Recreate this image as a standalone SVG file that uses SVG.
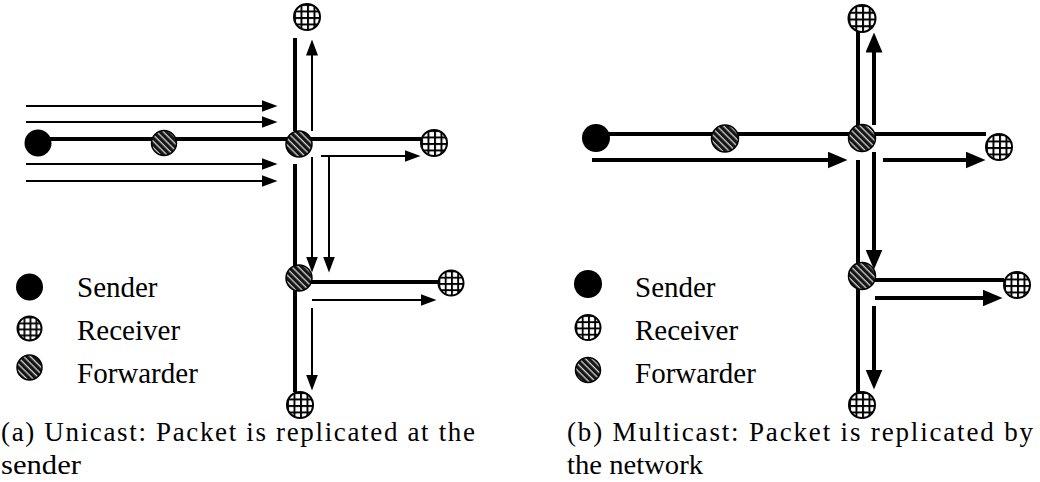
<svg xmlns="http://www.w3.org/2000/svg" width="1040" height="482" viewBox="0 0 1040 482">
<defs>
  <pattern id="grid" patternUnits="objectBoundingBox" width="0.25" height="0.25" patternContentUnits="objectBoundingBox">
    <rect x="0" y="0" width="0.25" height="0.25" fill="#fff"/>
    <rect x="0" y="0" width="0.25" height="0.075" fill="#000"/>
    <rect x="0" y="0" width="0.075" height="0.25" fill="#000"/>
  </pattern>
  <pattern id="stripes" patternUnits="userSpaceOnUse" width="4.6" height="4.6" patternTransform="rotate(45)">
    <rect x="0" y="0" width="4.6" height="4.6" fill="#151515"/>
    <rect x="0" y="0" width="4.6" height="1.3" fill="#d0d0d0"/>
  </pattern>
  <marker id="ah" markerUnits="userSpaceOnUse" markerWidth="16" markerHeight="12" refX="0.5" refY="6" orient="auto">
    <path d="M0,0 L16,6 L0,12 Z" fill="#000"/>
  </marker>
  <marker id="ahb" markerUnits="userSpaceOnUse" markerWidth="20" markerHeight="17" refX="0.5" refY="8.5" orient="auto">
    <path d="M0,0 L20,8.5 L0,17 Z" fill="#000"/>
  </marker>
</defs>
<style>
  .thick { stroke: #000; stroke-width: 4; fill: none; }
  .thin { stroke: #000; stroke-width: 2; fill: none; marker-end: url(#ah); }
  .bold { stroke: #000; stroke-width: 4; fill: none; marker-end: url(#ahb); }
  .sender { fill: #000; }
  .receiver { fill: url(#grid); stroke: #000; stroke-width: 2; }
  .forwarder { fill: url(#stripes); stroke: #000; stroke-width: 1.5; }
  .legend { font-size: 29px; fill: #000; }
  .caption { font-size: 27px; fill: #000; }
</style>

<!-- Left panel connectors -->
<g id="connectors-left">
  <path class="thick" d="M38,139 H421"/>
  <path class="thick" d="M295,38 V131"/>
  <path class="thick" d="M295,164 V392"/>
  <path class="thick" d="M299,282 H438"/>
  <path class="thin" d="M26,106 H262"/>
  <path class="thin" d="M26,122 H262"/>
  <path class="thin" d="M26,164 H262"/>
  <path class="thin" d="M26,181 H262"/>
  <path class="thin" d="M312,131 V55"/>
  <path class="thin" d="M321,156 H405"/>
  <path class="thin" d="M312,157 V257"/>
  <path class="thin" d="M329,156 V257"/>
  <path class="thin" d="M312,300 H421"/>
  <path class="thin" d="M312,308 V375"/>
</g>

<!-- Right panel connectors -->
<g id="connectors-right">
  <path class="thick" d="M596,134 H986"/>
  <path class="thick" d="M858,32 V125"/>
  <path class="thick" d="M858,160 V392"/>
  <path class="thick" d="M862,280 H1004"/>
  <path class="bold" d="M592,160 H828"/>
  <path class="bold" d="M883,160 H966"/>
  <path class="bold" d="M874,125 V52"/>
  <path class="bold" d="M874,152 V250"/>
  <path class="bold" d="M875,298 H983"/>
  <path class="bold" d="M874,306 V370"/>
</g>

<!-- Left panel nodes -->
<g id="a-sender"><circle class="sender" cx="38" cy="143" r="13.5"/></g>
<g id="a-forwarder-1"><circle class="forwarder" cx="164" cy="143" r="12.5"/></g>
<g id="a-forwarder-center"><circle class="forwarder" cx="299" cy="144" r="13"/></g>
<g id="a-forwarder-lower"><circle class="forwarder" cx="299" cy="278" r="13"/></g>
<g id="a-receiver-top"><circle class="receiver" cx="307" cy="17" r="13"/></g>
<g id="a-receiver-right"><circle class="receiver" cx="434" cy="143" r="13"/></g>
<g id="a-receiver-lower-right"><circle class="receiver" cx="451" cy="283" r="12.5"/></g>
<g id="a-receiver-bottom"><circle class="receiver" cx="300" cy="405" r="13"/></g>

<!-- Left legend -->
<g id="a-legend-sender"><circle class="sender" cx="29.5" cy="287" r="13.5"/><text class="legend" font-family="Liberation Serif, DejaVu Serif, serif" x="77" y="297">Sender</text></g>
<g id="a-legend-receiver"><circle class="receiver" cx="29.5" cy="328.5" r="12"/><text class="legend" font-family="Liberation Serif, DejaVu Serif, serif" x="77" y="340">Receiver</text></g>
<g id="a-legend-forwarder"><circle class="forwarder" cx="29.5" cy="367.5" r="12.5"/><text class="legend" font-family="Liberation Serif, DejaVu Serif, serif" x="77" y="383">Forwarder</text></g>

<!-- Right panel nodes -->
<g id="b-sender"><circle class="sender" cx="596" cy="138" r="14"/></g>
<g id="b-forwarder-1"><circle class="forwarder" cx="725" cy="138.5" r="13.5"/></g>
<g id="b-forwarder-center"><circle class="forwarder" cx="862" cy="138" r="13.5"/></g>
<g id="b-forwarder-lower"><circle class="forwarder" cx="862" cy="276" r="13.5"/></g>
<g id="b-receiver-top"><circle class="receiver" cx="862" cy="18.5" r="13.5"/></g>
<g id="b-receiver-right"><circle class="receiver" cx="999" cy="147" r="13"/></g>
<g id="b-receiver-lower-right"><circle class="receiver" cx="1017" cy="285" r="13"/></g>
<g id="b-receiver-bottom"><circle class="receiver" cx="862" cy="405" r="13"/></g>

<!-- Right legend -->
<g id="b-legend-sender"><circle class="sender" cx="588" cy="284" r="14"/><text class="legend" font-family="Liberation Serif, DejaVu Serif, serif" x="635" y="297">Sender</text></g>
<g id="b-legend-receiver"><circle class="receiver" cx="588" cy="327.5" r="12.5"/><text class="legend" font-family="Liberation Serif, DejaVu Serif, serif" x="635" y="340">Receiver</text></g>
<g id="b-legend-forwarder"><circle class="forwarder" cx="588" cy="370" r="12.5"/><text class="legend" font-family="Liberation Serif, DejaVu Serif, serif" x="635" y="383">Forwarder</text></g>

<!-- Captions -->
<g id="caption-a">
  <text class="caption" font-family="Liberation Serif, DejaVu Serif, serif" x="1" y="441" textLength="474" lengthAdjust="spacing">(a) Unicast: Packet is replicated at the</text>
  <text class="caption" font-family="Liberation Serif, DejaVu Serif, serif" x="1" y="474" textLength="80" lengthAdjust="spacingAndGlyphs">sender</text>
</g>
<g id="caption-b">
  <text class="caption" font-family="Liberation Serif, DejaVu Serif, serif" x="567" y="441" textLength="466" lengthAdjust="spacing">(b) Multicast: Packet is replicated by</text>
  <text class="caption" font-family="Liberation Serif, DejaVu Serif, serif" x="567" y="474" textLength="136" lengthAdjust="spacingAndGlyphs">the network</text>
</g>
</svg>
